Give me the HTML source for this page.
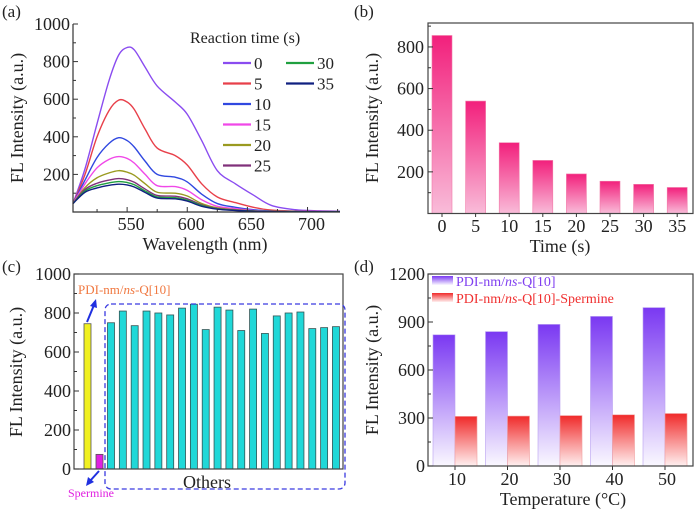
<!DOCTYPE html>
<html><head><meta charset="utf-8"><style>
body{margin:0;background:#fff;}
svg{display:block;}
svg text, svg tspan{font-family:"Liberation Serif","DejaVu Serif",serif !important;}
</style></head><body>
<svg id="s" width="700" height="514" viewBox="0 0 700 514" style="font-family:'Liberation Serif','DejaVu Serif',serif">
<defs>
<linearGradient id="gPink" x1="0" y1="0" x2="0" y2="1"><stop offset="0" stop-color="#f2207c"/><stop offset="1" stop-color="#f9bcd9"/></linearGradient>
<linearGradient id="gPur" x1="0" y1="0" x2="0" y2="1"><stop offset="0" stop-color="#7a38f2"/><stop offset="1" stop-color="#faf8ff"/></linearGradient>
<linearGradient id="gRed" x1="0" y1="0" x2="0" y2="1"><stop offset="0" stop-color="#f02a2a"/><stop offset="1" stop-color="#fff0f0"/></linearGradient>
</defs>
</svg>
<script>
// ---- Panel (a) data ----
const aWave = [505,515,525,535,543,550,556,565,575,590,600,612,625,640,655,670,690,710,727];
const aSeriesNames = ["0","5","10","15","20","25","30","35"];
const aColors = ["#8a4cf0","#e8404a","#3048e0","#f048e8","#9a9a20","#80307a","#20a040","#102080"];
const aS0  = [45,230,470,700,835,875,862,770,670,585,520,380,220,150,90,35,12,6,4];
const aS5  = [45,200,400,540,595,585,545,440,340,300,250,150,80,50,25,10,5,3,2];
const aS10 = [45,170,290,365,395,380,345,270,200,185,160,95,45,25,12,5,3,2,2];
const aS15 = [45,150,235,280,295,285,260,200,140,135,115,65,30,18,8,4,2,2,1];
const aS20 = [45,130,182,208,220,212,195,150,105,100,85,45,22,12,6,3,2,1,1];
const aS25 = [45,120,153,170,178,172,158,122,88,84,70,38,18,10,5,3,2,1,1];
const aS30 = [45,112,140,155,162,157,145,112,80,76,63,34,16,9,5,3,2,1,1];
const aS35 = [45,105,128,142,148,144,133,104,74,70,58,30,15,8,4,2,1,1,1];
const aSeries = [aS0,aS5,aS10,aS15,aS20,aS25,aS30,aS35];
const aXTicks = [550,600,650,700];
const aYTicks = [200,400,600,800,1000];
// ---- Panel (b) data ----
const bCats = ["0","5","10","15","20","25","30","35"];
const bVals = [855,540,340,255,190,155,140,125];
const bYTicks = [200,400,600,800];
// ---- Panel (c) data ----
const cRef = 745;
const cSpermine = 75;
const cOthers = [750,810,735,810,800,790,825,845,715,830,815,710,820,695,785,800,805,720,725,730];
const cYTicks = [0,200,400,600,800,1000];
// ---- Panel (d) data ----
const dTemps = [10,20,30,40,50];
const dPure = [820,840,885,935,990];
const dSperm = [310,312,315,320,328];
const dYTicks = [0,300,600,900,1200];

const svg = document.getElementById('s');
const NS = 'http://www.w3.org/2000/svg';
function mk(tag, attrs, parent){const e=document.createElementNS(NS,tag);for(const k in attrs)e.setAttribute(k,attrs[k]);(parent||svg).appendChild(e);return e;}
function txt(s,x,y,size,anchor,fill,parent){const t=mk('text',{x:x,y:y,'font-size':size,'text-anchor':anchor||'middle',fill:fill||'#222',style:"font-family:'Liberation Serif','DejaVu Serif',serif"},parent);t.textContent=s;return t;}
function lin(d0,d1,r0,r1){return v=>r0+(v-d0)*(r1-r0)/(d1-d0);}
function ylabel(x,cy,name){const t=txt('FL Intensity (a.u.)',x,cy,18,'middle');t.setAttribute('transform','rotate(-90 '+x+' '+cy+')');}

// ===== Panel (a) =====
{
const g=mk('g',{});
const X=lin(505,727,73,340), Y=lin(0,1000,212,24);
aSeries.forEach((s,i)=>{
  const pts=aWave.map((w,j)=>[X(w),Y(s[j])]);
  let d='M'+pts[0][0]+','+pts[0][1];
  for(let j=0;j<pts.length-1;j++){const p0=pts[j-1]||pts[j],p1=pts[j],p2=pts[j+1],p3=pts[j+2]||p2;
    d+=' C'+(p1[0]+(p2[0]-p0[0])/6)+','+(p1[1]+(p2[1]-p0[1])/6)+' '+(p2[0]-(p3[0]-p1[0])/6)+','+(p2[1]-(p3[1]-p1[1])/6)+' '+p2[0]+','+p2[1];}
  const p=mk('path',{d:d,fill:'none',stroke:aColors[i],'stroke-width':1.4},g);
  
  
});
mk('path',{d:'M73,24 V212 H340',fill:'none',stroke:'#333','stroke-width':1.2},g);
aYTicks.forEach(v=>{mk('line',{x1:73,x2:78,y1:Y(v),y2:Y(v),stroke:'#333'},g);mk('line',{x1:73,x2:76,y1:Y(v-100),y2:Y(v-100),stroke:'#333'},g);
  const t=txt(String(v),70,Y(v)+6,18,'end','#222',g);});
for(let w=525;w<=725;w+=25){mk('line',{x1:X(w),x2:X(w),y1:212,y2:w%50==0?207:209,stroke:'#333'},g);}
aXTicks.forEach(v=>{const t=txt(String(v),X(v)+4,230,18,'middle','#222',g);});
const xt=txt('Wavelength (nm)',205,250,18,'middle','#222',g);
ylabel(23,118,'y-axis-title-a');
const lt=txt('Reaction time (s)',190,43,16,'start','#222',g);
aSeriesNames.forEach((n,i)=>{const col=i<6?0:1,row=i<6?i:i-6;const lx=col?286:223,ly=63+row*20.5;
  const l=mk('line',{x1:lx,x2:lx+28,y1:ly,y2:ly,stroke:aColors[i],'stroke-width':2.2},g);
  const t=txt(n,lx+31,ly+6,17,'start','#222',g);});
txt('(a)',2,17,17,'start','#222',g);
}

// ===== Panel (b) =====
{
const g=mk('g',{});
const Y=lin(0,915,213.5,23), X=i=>442+i*33.6;
bVals.forEach((v,i)=>{const r=mk('rect',{x:X(i)-10,y:Y(v),width:20,height:213.5-Y(v),fill:'url(#gPink)',stroke:'#f07aa8','stroke-width':0.6},g);
  });
mk('rect',{x:428,y:23,width:265,height:190.5,fill:'none',stroke:'#444','stroke-width':1.2},g);
bYTicks.forEach(v=>{mk('line',{x1:428,x2:433,y1:Y(v),y2:Y(v),stroke:'#333'},g);mk('line',{x1:428,x2:431,y1:Y(v-100),y2:Y(v-100),stroke:'#333'},g);
  const t=txt(String(v),424,Y(v)+6,18,'end','#222',g);});
mk('line',{x1:428,x2:431,y1:Y(900),y2:Y(900),stroke:'#333'},g);
bCats.forEach((c,i)=>{mk('line',{x1:X(i),x2:X(i),y1:213.5,y2:217,stroke:'#333'},g);const t=txt(c,X(i),232,18,'middle','#222',g);});
const xt=txt('Time (s)',560,252,18,'middle','#222',g);
ylabel(378,118,'y-axis-title-b');
txt('(b)',354,17,17,'start','#222',g);
}

// ===== Panel (c) =====
{
const g=mk('g',{});
const Y=lin(0,1000,469,274);
const r1=mk('rect',{x:84,y:Y(cRef),width:7,height:469-Y(cRef),fill:'#f0f020',stroke:'#555','stroke-width':0.8},g);
const r2=mk('rect',{x:96,y:Y(cSpermine),width:7,height:469-Y(cSpermine),fill:'#e020e0',stroke:'#555','stroke-width':0.8},g);
cOthers.forEach((v,i)=>{const cx=111+i*11.84;const r=mk('rect',{x:cx-3.5,y:Y(v),width:7,height:469-Y(v),fill:'#20d8d8',stroke:'#355','stroke-width':0.8},g);
  });
mk('rect',{x:74,y:274,width:269,height:195,fill:'none',stroke:'#444','stroke-width':1.2},g);
cYTicks.forEach(v=>{mk('line',{x1:74,x2:79,y1:Y(v),y2:Y(v),stroke:'#333'},g);if(v>0)mk('line',{x1:74,x2:77,y1:Y(v-100),y2:Y(v-100),stroke:'#333'},g);
  const t=txt(String(v),71,Y(v)+6,18,'end','#222',g);});
const box=mk('rect',{x:105,y:304,width:240,height:185,rx:6,fill:'none',stroke:'#3a3ae0','stroke-width':1.3,'stroke-dasharray':'5,3'},g);
const ot=txt('Others',207,488,18,'middle','#222',g);
const pt=txt('',78,294,13,'start','#f07840',g);pt.innerHTML='PDI-nm/<tspan font-style="italic">ns</tspan>-Q[10]';
mk('path',{d:'M87,322 L94,305',stroke:'#2030e0','stroke-width':2,fill:'none'},g);
mk('path',{d:'M96,299 L90,306 L97,308 Z',fill:'#2030e0'},g);
mk('path',{d:'M99,471 L90,481',stroke:'#2030e0','stroke-width':2,fill:'none'},g);
mk('path',{d:'M86,486 L88,477 L94,482 Z',fill:'#2030e0'},g);
const st=txt('Spermine',68,497,12,'start','#e020e0',g);
ylabel(22,372,'y-axis-title-c');
txt('(c)',2,272,17,'start','#222',g);
}

// ===== Panel (d) =====
{
const g=mk('g',{});
const Y=lin(0,1200,466,274), X=lin(10,50,455,665);
dTemps.forEach((t,i)=>{
  const a=mk('rect',{x:X(t)-22,y:Y(dPure[i]),width:22,height:466-Y(dPure[i]),fill:'url(#gPur)',stroke:'#b8a0f0','stroke-width':0.6},g);
  const b=mk('rect',{x:X(t),y:Y(dSperm[i]),width:22,height:466-Y(dSperm[i]),fill:'url(#gRed)',stroke:'#f0a0a0','stroke-width':0.6},g);
  mk('line',{x1:X(t),x2:X(t),y1:466,y2:470,stroke:'#333'},g);
  const l=txt(String(t),X(t)+2,485,18,'middle','#222',g);
});
mk('rect',{x:428,y:274,width:265,height:192,fill:'none',stroke:'#444','stroke-width':1.2},g);
dYTicks.forEach(v=>{mk('line',{x1:428,x2:433,y1:Y(v),y2:Y(v),stroke:'#333'},g);if(v>0)mk('line',{x1:428,x2:431,y1:Y(v-150),y2:Y(v-150),stroke:'#333'},g);
  const t=txt(String(v),425,Y(v)+6,18,'end','#222',g);});
const xt=txt('Temperature (°C)',563,505,18,'middle','#222',g);
ylabel(378,370,'y-axis-title-d');
const s1=mk('rect',{x:432,y:276,width:21,height:9,fill:'url(#gPur)'},g);
const t1=txt('',456,286,14,'start','#8040f0',g);t1.innerHTML='PDI-nm/<tspan font-style="italic">ns</tspan>-Q[10]';
const s2=mk('rect',{x:432,y:293,width:21,height:9,fill:'url(#gRed)'},g);
const t2=txt('',456,303,14,'start','#f03030',g);t2.innerHTML='PDI-nm/<tspan font-style="italic">ns</tspan>-Q[10]-Spermine';
txt('(d)',354,272,17,'start','#222',g);
}
</script>
</body></html>
